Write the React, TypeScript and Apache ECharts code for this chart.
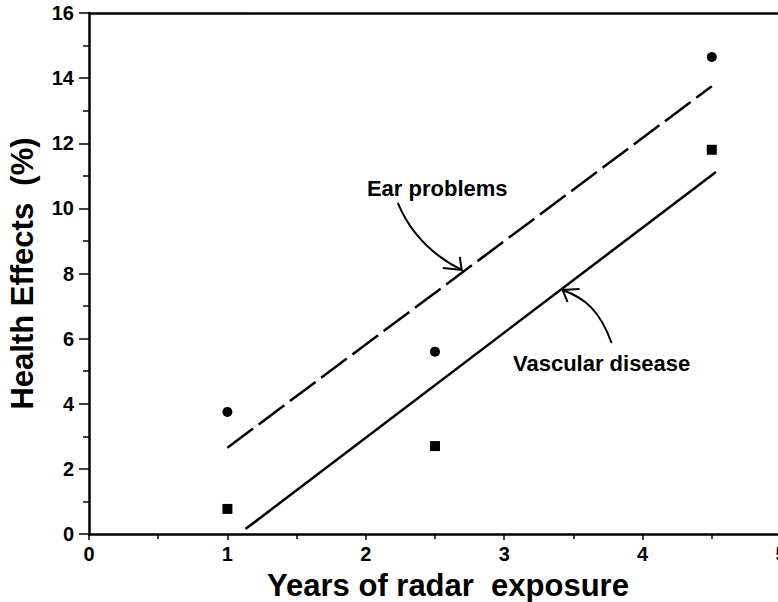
import React, { useEffect, useRef } from "react";
import * as echarts from "echarts";

// Observed data points
const earX = [1, 2.5, 4.5];
const earY = [3.75, 5.6, 14.65];
const vascX = [1, 2.5, 4.5];
const vascY = [0.77, 2.7, 11.8];

// Fitted lines (endpoints)
const earFitX = [1, 4.5];
const earFitY = [2.65, 13.75];
const vascFitX = [1.13, 4.53];
const vascFitY = [0.15, 11.12];

// Axis settings
const xMin = 0, xMax = 5, xStep = 1;
const yMin = 0, yMax = 16, yStep = 2;

// Annotation labels (data coordinates)
const earLabel = { text: "Ear problems", at: [2.516, 10.6] };
const vascLabel = { text: "Vascular disease", at: [3.704, 5.24] };
// Curved arrows: start, cp1, cp2, tip, wing1, wing2 (data coordinates)
const earArrow = [[2.231, 10.166], [2.318, 9.275], [2.477, 8.569], [2.693, 8.108], [2.556, 8.17], [2.679, 8.508]];
const vascArrow = [[3.776, 5.866], [3.69, 6.88], [3.581, 7.248], [3.422, 7.494], [3.545, 7.525], [3.458, 7.125]];

const FONT = "Liberation Sans";
const INK = "#000";

export default function App() {
  const ref = useRef<HTMLDivElement>(null);
  useEffect(() => {
    if (!ref.current) return;
    const chart = echarts.init(ref.current, undefined, { renderer: "svg" });
    const pair = (xs: number[], ys: number[]) => xs.map((x, i) => [x, ys[i]]);
    const tickLabel = { show: true, fontFamily: FONT, fontWeight: "bold", fontSize: 20, color: INK };
    chart.setOption({
      animation: false,
      backgroundColor: "#fff",
      grid: { left: 89, top: 13, width: 692, height: 521, outerBoundsMode: "none" },
      xAxis: [
        {
          type: "value",
          min: xMin,
          max: xMax,
          interval: xStep,
          position: "bottom",
          name: "Years of radar  exposure",
          nameLocation: "middle",
          nameGap: 36,
          nameTextStyle: { fontFamily: FONT, fontWeight: "bold", fontSize: 31, color: INK, padding: [0, 0, 0, 26] },
          axisLine: { show: true, onZero: false, lineStyle: { color: INK, width: 2.5 } },
          axisTick: { show: true, length: 6, lineStyle: { color: INK, width: 1.5 } },
          minorTick: { show: true, splitNumber: 2, length: 5, lineStyle: { color: INK, width: 1.5 } },
          axisLabel: { ...tickLabel, margin: 10 },
          splitLine: { show: false },
        },
        {
          type: "value",
          min: xMin,
          max: xMax,
          interval: xStep,
          position: "top",
          axisLine: { show: true, onZero: false, lineStyle: { color: INK, width: 2.5 } },
          axisTick: { show: false },
          axisLabel: { show: false },
          splitLine: { show: false },
        },
      ],
      yAxis: {
        type: "value",
        min: yMin,
        max: yMax,
        interval: yStep,
        name: "Health Effects  (%)",
        nameLocation: "middle",
        nameGap: 51,
        nameTextStyle: { fontFamily: FONT, fontWeight: "bold", fontSize: 31, color: INK },
        axisLine: { show: true, onZero: false, lineStyle: { color: INK, width: 2.5 } },
        axisTick: { show: true, length: 10, lineStyle: { color: INK, width: 1.5 } },
        minorTick: { show: true, splitNumber: 2, length: 6, lineStyle: { color: INK, width: 1.5 } },
        axisLabel: { ...tickLabel, margin: 15 },
        splitLine: { show: false },
      },
      series: [
        {
          type: "line",
          data: pair(earFitX, earFitY),
          showSymbol: false,
          symbol: "none",
          lineStyle: { color: INK, width: 2.5, type: [32, 7] },
          z: 2,
        },
        {
          type: "line",
          data: pair(vascFitX, vascFitY),
          showSymbol: false,
          symbol: "none",
          lineStyle: { color: INK, width: 2.5, type: "solid" },
          z: 2,
        },
        {
          type: "scatter",
          data: pair(earX, earY),
          symbol: "circle",
          symbolSize: 10,
          itemStyle: { color: INK, opacity: 1 },
          z: 3,
        },
        {
          type: "scatter",
          data: pair(vascX, vascY),
          symbol: "rect",
          symbolSize: 10,
          itemStyle: { color: INK, opacity: 1 },
          z: 3,
        },
      ],
    });

    const px = (p: number[]) => chart.convertToPixel({ gridIndex: 0 }, p) as number[];
    const arrow = (a: number[][]) => {
      const [s, c1, c2, t, w1, w2] = a.map(px);
      return [
        {
          type: "bezierCurve",
          shape: { x1: s[0], y1: s[1], cpx1: c1[0], cpy1: c1[1], cpx2: c2[0], cpy2: c2[1], x2: t[0], y2: t[1] },
          style: { stroke: INK, lineWidth: 2, fill: null },
          z: 10,
        },
        {
          type: "polyline",
          shape: { points: [w1, t, w2] },
          style: { stroke: INK, lineWidth: 2, fill: null },
          z: 10,
        },
      ];
    };
    const label = (l: { text: string; at: number[] }) => {
      const p = px(l.at);
      return {
        type: "text",
        x: p[0],
        y: p[1],
        style: {
          text: l.text,
          fontFamily: FONT,
          fontWeight: "bold",
          fontSize: 22,
          fill: INK,
          align: "center",
          verticalAlign: "middle",
        },
        z: 10,
      };
    };
    chart.setOption({
      graphic: [...arrow(earArrow), ...arrow(vascArrow), label(earLabel), label(vascLabel)],
    });

    return () => chart.dispose();
  }, []);
  return (
    <div
      ref={ref}
      style={{ position: "absolute", left: 0, top: 0, width: 778, height: 602, background: "#fff" }}
    />
  );
}
